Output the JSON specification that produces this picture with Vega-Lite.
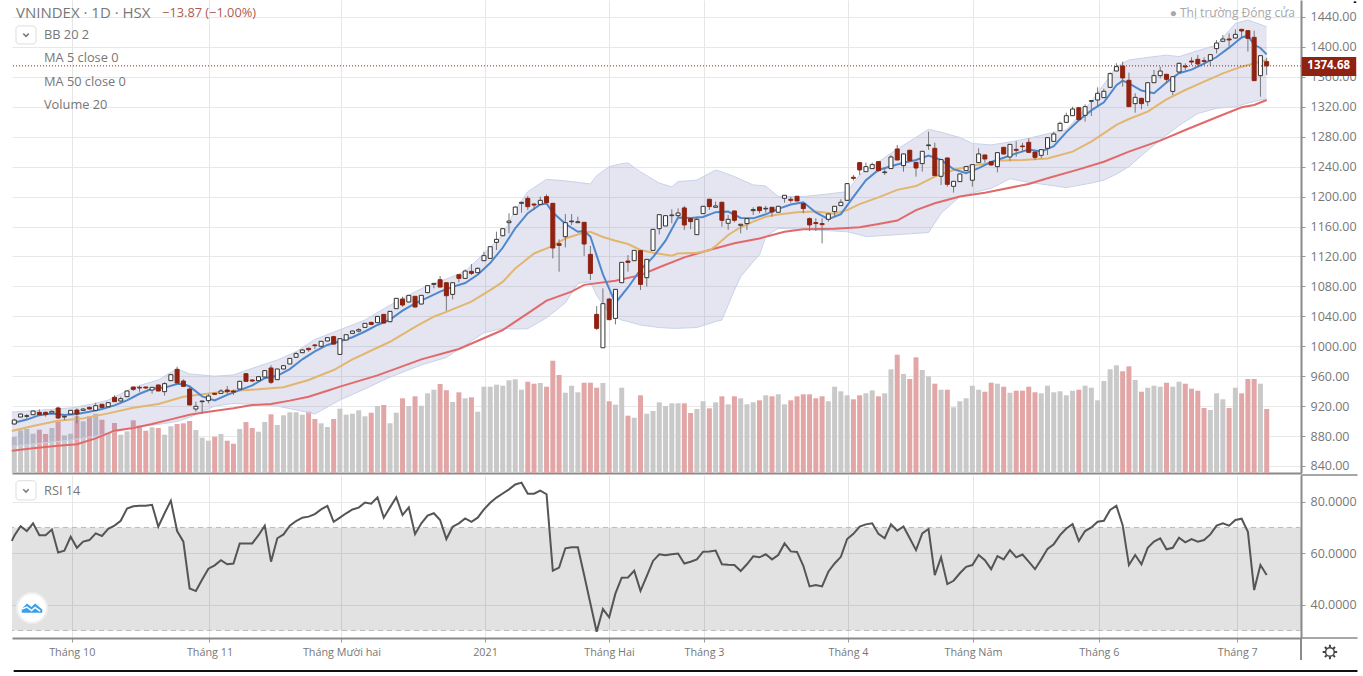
{"$schema":"https://vega.github.io/schema/vega-lite/v6.json","background":"#ffffff","padding":{"left":7,"top":0,"right":0,"bottom":0},"bounds":"flush","spacing":2,"config":{"view":{"stroke":null},"font":"Open Sans","scale":{"continuousPadding":0}},
"datasets":{
"candles":[
{"i":0,"open":896.1,"high":903,"low":895,"close":901.4,"volume":36},{"i":1,"open":905.4,"high":910,"low":905,"close":909.4,"volume":42.7},{"i":2,"open":906.3,"high":909.4,"low":903.2,"close":907.2,"volume":44},{"i":3,"open":908.5,"high":914,"low":908,"close":913.4,"volume":39.3},{"i":4,"open":911.7,"high":915.7,"low":907.7,"close":908.5,"volume":43.3},{"i":5,"open":911.7,"high":912.6,"low":905.9,"close":909,"volume":39},{"i":6,"open":910.8,"high":914,"low":910,"close":913,"volume":45},{"i":7,"open":917.5,"high":919.2,"low":903.2,"close":904.1,"volume":51.7},{"i":8,"open":905.4,"high":906.3,"low":901.4,"close":906.3,"volume":37.7},{"i":9,"open":909.4,"high":915,"low":909,"close":914.3,"volume":39.3},
{"i":10,"open":914.8,"high":917,"low":897,"close":909.4,"volume":56.7},{"i":11,"open":914.3,"high":917,"low":914,"close":916.1,"volume":51.7},{"i":12,"open":918.3,"high":919.5,"low":915.5,"close":916.1,"volume":56.7},{"i":13,"open":914.3,"high":924.6,"low":913.4,"close":920.6,"volume":59.3},{"i":14,"open":922.4,"high":923,"low":917.5,"close":918.3,"volume":53.3},{"i":15,"open":919.2,"high":925,"low":919,"close":924.6,"volume":40},{"i":16,"open":931.7,"high":934.4,"low":925.5,"close":925.9,"volume":50},{"i":17,"open":926.8,"high":932.6,"low":926,"close":929.9,"volume":38.3},{"i":18,"open":932.6,"high":941,"low":932,"close":940.2,"volume":41.7},{"i":19,"open":945.5,"high":946,"low":940.2,"close":942.4,"volume":52.7},
{"i":20,"open":945.1,"high":947.3,"low":939.3,"close":944.2,"volume":47.3},{"i":21,"open":945.5,"high":946,"low":943,"close":944.2,"volume":42.3},{"i":22,"open":941.5,"high":945.5,"low":936.6,"close":945.1,"volume":45.7},{"i":23,"open":948.2,"high":949,"low":940,"close":940.2,"volume":45},{"i":24,"open":939.3,"high":951.8,"low":934,"close":950,"volume":38.3},{"i":25,"open":954,"high":963,"low":953.5,"close":962,"volume":46.7},{"i":26,"open":969.1,"high":972.7,"low":949.5,"close":950.9,"volume":49},{"i":27,"open":953.5,"high":955.8,"low":946,"close":946.4,"volume":49.7},{"i":28,"open":942.8,"high":945,"low":921,"close":921.5,"volume":52},{"i":29,"open":916.1,"high":925.9,"low":912.6,"close":919.7,"volume":43},
{"i":30,"open":925.9,"high":927,"low":910.3,"close":926.8,"volume":35.3},{"i":31,"open":927.3,"high":936.2,"low":923.7,"close":933.5,"volume":32.3},{"i":32,"open":937,"high":938,"low":935,"close":935.7,"volume":36.3},{"i":33,"open":937,"high":942.8,"low":936.5,"close":940.2,"volume":39},{"i":34,"open":941.5,"high":946.9,"low":936.2,"close":939.3,"volume":32.3},{"i":35,"open":940.2,"high":942,"low":934.8,"close":938.8,"volume":29.3},{"i":36,"open":942.8,"high":954,"low":942,"close":953.1,"volume":44},{"i":37,"open":963.3,"high":964,"low":953,"close":953.1,"volume":51},{"i":38,"open":954.9,"high":956,"low":952.5,"close":953.5,"volume":45},{"i":39,"open":954,"high":960,"low":953.5,"close":959.3,"volume":41.3},
{"i":40,"open":958.9,"high":968,"low":958.5,"close":967.4,"volume":51},{"i":41,"open":970.9,"high":974.5,"low":949.5,"close":951.8,"volume":58.7},{"i":42,"open":955.3,"high":970,"low":955,"close":969.6,"volume":48},{"i":43,"open":969.6,"high":975,"low":969,"close":974,"volume":57.7},{"i":44,"open":976.3,"high":984,"low":976,"close":983.8,"volume":60.7},{"i":45,"open":985.2,"high":992.3,"low":985,"close":990.1,"volume":60.7},{"i":46,"open":991.4,"high":996,"low":991,"close":995,"volume":58.3},{"i":47,"open":997.2,"high":998,"low":992.7,"close":995.4,"volume":61.3},{"i":48,"open":1001.7,"high":1003,"low":996.3,"close":1000.8,"volume":54},{"i":49,"open":999.9,"high":1007,"low":999.5,"close":1006.6,"volume":49.7},
{"i":50,"open":1007,"high":1012,"low":1006.5,"close":1011.5,"volume":46},{"i":51,"open":1012.8,"high":1014,"low":1002.5,"close":1002.9,"volume":54},{"i":52,"open":989.1,"high":1010.5,"low":988.5,"close":1010.1,"volume":64.3},{"i":53,"open":1008.3,"high":1016,"low":1008,"close":1015.4,"volume":58.3},{"i":54,"open":1017.2,"high":1021,"low":1017,"close":1020.3,"volume":59.3},{"i":55,"open":1020.3,"high":1024.3,"low":1018.5,"close":1022.1,"volume":62.7},{"i":56,"open":1025.2,"high":1031,"low":1025,"close":1030.6,"volume":56.7},{"i":57,"open":1031.9,"high":1032.5,"low":1028.5,"close":1029.2,"volume":60.3},{"i":58,"open":1031.5,"high":1040.5,"low":1031,"close":1039.9,"volume":67},{"i":59,"open":1042.6,"high":1043,"low":1030.5,"close":1031,"volume":68},
{"i":60,"open":1032.8,"high":1047,"low":1032,"close":1046.6,"volume":49.7},{"i":61,"open":1050.2,"high":1064.5,"low":1050,"close":1064,"volume":60.3},{"i":62,"open":1063.1,"high":1066.2,"low":1052.8,"close":1055.1,"volume":74.7},{"i":63,"open":1059.1,"high":1068.5,"low":1058.5,"close":1068,"volume":67},{"i":64,"open":1066.7,"high":1067,"low":1052,"close":1052.4,"volume":76.7},{"i":65,"open":1056.4,"high":1068.5,"low":1056,"close":1068,"volume":67.3},{"i":66,"open":1071.6,"high":1081.5,"low":1071,"close":1080.9,"volume":79.7},{"i":67,"open":1082.7,"high":1084.5,"low":1077.4,"close":1084,"volume":83.3},{"i":68,"open":1088.9,"high":1093.8,"low":1079,"close":1079.1,"volume":89},{"i":69,"open":1084.9,"high":1085,"low":1047.5,"close":1067.5,"volume":82.8},
{"i":70,"open":1069.3,"high":1085,"low":1062.6,"close":1084.9,"volume":71},{"i":71,"open":1095.6,"high":1096,"low":1085.4,"close":1090.7,"volume":80.7},{"i":72,"open":1090.7,"high":1102.7,"low":1090,"close":1100.5,"volume":74.7},{"i":73,"open":1100.1,"high":1109.9,"low":1095.2,"close":1097.4,"volume":75.7},{"i":74,"open":1098.3,"high":1105.4,"low":1098,"close":1104.1,"volume":61.3},{"i":75,"open":1114.3,"high":1126.4,"low":1114,"close":1121,"volume":86.3},{"i":76,"open":1117.4,"high":1133.5,"low":1117,"close":1133,"volume":86.3},{"i":77,"open":1138.8,"high":1153.1,"low":1128.6,"close":1142.8,"volume":88.3},{"i":78,"open":1147.7,"high":1157.5,"low":1147,"close":1157.1,"volume":87.3},{"i":79,"open":1165.1,"high":1177.6,"low":1150.9,"close":1167.3,"volume":92.7},
{"i":80,"open":1176.2,"high":1187,"low":1176,"close":1186,"volume":93.7},{"i":81,"open":1191,"high":1193,"low":1178.5,"close":1192.3,"volume":83.3},{"i":82,"open":1197.6,"high":1200.8,"low":1182,"close":1186.5,"volume":91.3},{"i":83,"open":1190,"high":1191,"low":1182,"close":1188.7,"volume":89.3},{"i":84,"open":1189.6,"high":1199.9,"low":1189,"close":1195,"volume":90},{"i":85,"open":1199.9,"high":1203,"low":1191,"close":1191.8,"volume":86.3},{"i":86,"open":1191,"high":1191.5,"low":1117.4,"close":1131.3,"volume":112.3},{"i":87,"open":1137,"high":1142.8,"low":1099.6,"close":1134.8,"volume":98},{"i":88,"open":1146.4,"high":1176.7,"low":1132.1,"close":1165.1,"volume":80.3},{"i":89,"open":1166.4,"high":1176.7,"low":1162,"close":1167.3,"volume":87.3},
{"i":90,"open":1165.1,"high":1173.1,"low":1165,"close":1166.4,"volume":80.7},{"i":91,"open":1165.6,"high":1166,"low":1120.6,"close":1136.6,"volume":90.3},{"i":92,"open":1122.8,"high":1133.9,"low":1088.5,"close":1097.4,"volume":90.3},{"i":93,"open":1042.6,"high":1053.7,"low":1021.7,"close":1023.9,"volume":85.3},{"i":94,"open":998,"high":1077.4,"low":998,"close":1056.9,"volume":90},{"i":95,"open":1063.1,"high":1064,"low":1035,"close":1035.5,"volume":71.7},{"i":96,"open":1037.2,"high":1076.5,"low":1029.2,"close":1076,"volume":68.3},{"i":97,"open":1084.9,"high":1112.5,"low":1084.5,"close":1112.1,"volume":85.3},{"i":98,"open":1113.9,"high":1121.9,"low":1099.6,"close":1112.1,"volume":57.3},{"i":99,"open":1114.3,"high":1128.5,"low":1114,"close":1128.1,"volume":55.3},
{"i":100,"open":1127.7,"high":1128,"low":1075.1,"close":1082.7,"volume":77.7},{"i":101,"open":1091.6,"high":1116.5,"low":1079.6,"close":1116.1,"volume":59.3},{"i":102,"open":1128.1,"high":1157,"low":1128,"close":1156.2,"volume":62},{"i":103,"open":1157.1,"high":1176,"low":1149.5,"close":1175.8,"volume":70.7},{"i":104,"open":1160.7,"high":1175,"low":1160.5,"close":1174.5,"volume":67},{"i":105,"open":1174.5,"high":1183,"low":1164.3,"close":1175.4,"volume":69.7},{"i":106,"open":1174.5,"high":1184.3,"low":1171,"close":1178.1,"volume":69.7},{"i":107,"open":1184.8,"high":1187.5,"low":1155.4,"close":1162.1,"volume":69.7},{"i":108,"open":1170.5,"high":1171,"low":1156.3,"close":1166.5,"volume":60},{"i":109,"open":1149.1,"high":1173.2,"low":1149,"close":1169.6,"volume":64},
{"i":110,"open":1177.2,"high":1187.5,"low":1177,"close":1187,"volume":71.7},{"i":111,"open":1196.4,"high":1197,"low":1182.1,"close":1186.6,"volume":64.7},{"i":112,"open":1185.7,"high":1193.3,"low":1185,"close":1187.5,"volume":70.7},{"i":113,"open":1192.4,"high":1193,"low":1159.8,"close":1168.3,"volume":76.7},{"i":114,"open":1164.3,"high":1175.4,"low":1155.4,"close":1169.6,"volume":68.7},{"i":115,"open":1180.8,"high":1181,"low":1165.6,"close":1168.3,"volume":76.7},{"i":116,"open":1161.6,"high":1163.5,"low":1150.9,"close":1163,"volume":74.7},{"i":117,"open":1163.9,"high":1171,"low":1155.4,"close":1170.5,"volume":68.7},{"i":118,"open":1181.2,"high":1185.7,"low":1175.4,"close":1182.6,"volume":70.7},{"i":119,"open":1186.1,"high":1186.5,"low":1177.7,"close":1181.2,"volume":72.7},
{"i":120,"open":1183.5,"high":1187.5,"low":1178.6,"close":1184.3,"volume":77.7},{"i":121,"open":1185.7,"high":1186,"low":1173.2,"close":1179.4,"volume":76.7},{"i":122,"open":1179,"high":1187.5,"low":1179,"close":1187,"volume":78.7},{"i":123,"open":1197.7,"high":1202,"low":1191.9,"close":1201.7,"volume":68.7},{"i":124,"open":1196.4,"high":1199.9,"low":1191.9,"close":1195,"volume":72.7},{"i":125,"open":1200.4,"high":1201,"low":1194,"close":1194.1,"volume":76.7},{"i":126,"open":1190.6,"high":1191,"low":1177.7,"close":1183.9,"volume":78.7},{"i":127,"open":1170.5,"high":1172.3,"low":1154,"close":1162.1,"volume":78.7},{"i":128,"open":1165.2,"high":1171,"low":1154,"close":1163.9,"volume":74.7},{"i":129,"open":1163.9,"high":1171,"low":1137.6,"close":1162.5,"volume":76.7},
{"i":130,"open":1169.6,"high":1177,"low":1166.5,"close":1176.8,"volume":71.7},{"i":131,"open":1179.9,"high":1187.5,"low":1173.2,"close":1187,"volume":86.3},{"i":132,"open":1187.9,"high":1196.4,"low":1187.5,"close":1192.4,"volume":81.7},{"i":133,"open":1195,"high":1218,"low":1194.5,"close":1217.3,"volume":77.7},{"i":134,"open":1225.8,"high":1228.9,"low":1221.3,"close":1224.4,"volume":73.7},{"i":135,"open":1245.4,"high":1246,"low":1228.9,"close":1235.6,"volume":77.7},{"i":136,"open":1233.3,"high":1245.4,"low":1233,"close":1240,"volume":79.7},{"i":137,"open":1237.4,"high":1245.4,"low":1237,"close":1242.7,"volume":82.7},{"i":138,"open":1246.7,"high":1247,"low":1233.3,"close":1234.7,"volume":76.7},{"i":139,"open":1232,"high":1237.8,"low":1228.9,"close":1232.9,"volume":79.7},
{"i":140,"open":1237.4,"high":1255.6,"low":1237,"close":1252.9,"volume":103.7},{"i":141,"open":1263.6,"high":1269,"low":1248.5,"close":1248.9,"volume":118.3},{"i":142,"open":1241.4,"high":1257.5,"low":1233.3,"close":1257,"volume":99},{"i":143,"open":1261.9,"high":1262.5,"low":1247.5,"close":1248,"volume":94},{"i":144,"open":1245.8,"high":1246,"low":1226.7,"close":1238.2,"volume":115.7},{"i":145,"open":1244,"high":1261,"low":1233.3,"close":1260.5,"volume":103},{"i":146,"open":1268.1,"high":1286.8,"low":1262.3,"close":1269,"volume":96.7},{"i":147,"open":1264.5,"high":1272.1,"low":1228,"close":1228,"volume":89.3},{"i":148,"open":1227.1,"high":1250,"low":1215.5,"close":1249.4,"volume":83.3},{"i":149,"open":1251.6,"high":1252,"low":1213.3,"close":1216.4,"volume":83.3},
{"i":150,"open":1213.7,"high":1221,"low":1205.3,"close":1220.4,"volume":65.7},{"i":151,"open":1220,"high":1230.5,"low":1219.5,"close":1230.2,"volume":71.7},{"i":152,"open":1234.7,"high":1241,"low":1234,"close":1240,"volume":74.7},{"i":153,"open":1221.8,"high":1243,"low":1213.3,"close":1242.7,"volume":87.3},{"i":154,"open":1245.4,"high":1264.5,"low":1245,"close":1257,"volume":83.3},{"i":155,"open":1255.6,"high":1256,"low":1245.3,"close":1250.2,"volume":81.3},{"i":156,"open":1246.6,"high":1247,"low":1241.5,"close":1242.2,"volume":90.3},{"i":157,"open":1240,"high":1259,"low":1232.4,"close":1258.7,"volume":89.3},{"i":158,"open":1265.8,"high":1266,"low":1256,"close":1256.9,"volume":86.3},{"i":159,"open":1252.9,"high":1270,"low":1248,"close":1269.8,"volume":80.3},
{"i":160,"open":1263.1,"high":1273.8,"low":1253.3,"close":1261.8,"volume":82.3},{"i":161,"open":1267.6,"high":1272,"low":1260,"close":1266.7,"volume":82.3},{"i":162,"open":1272.5,"high":1277.8,"low":1259,"close":1259.1,"volume":86.3},{"i":163,"open":1259.6,"high":1260,"low":1248.9,"close":1252.4,"volume":80.7},{"i":164,"open":1255.1,"high":1263,"low":1251.1,"close":1262.7,"volume":79.7},{"i":165,"open":1264.5,"high":1279,"low":1255.6,"close":1278.7,"volume":87.3},{"i":166,"open":1273.8,"high":1286.7,"low":1273,"close":1283.6,"volume":80.7},{"i":167,"open":1288.1,"high":1300.1,"low":1287.5,"close":1297.9,"volume":81.7},{"i":168,"open":1299.2,"high":1312.1,"low":1299,"close":1308.1,"volume":77.7},{"i":169,"open":1308.1,"high":1320.1,"low":1308,"close":1317,"volume":82.3},
{"i":170,"open":1318.8,"high":1319,"low":1302.5,"close":1302.8,"volume":83.3},{"i":171,"open":1308.6,"high":1323.3,"low":1300.1,"close":1320.1,"volume":87.3},{"i":172,"open":1327.3,"high":1329,"low":1307.7,"close":1328.2,"volume":85.3},{"i":173,"open":1329.1,"high":1346,"low":1320.1,"close":1338,"volume":72.7},{"i":174,"open":1332.2,"high":1344.2,"low":1332,"close":1340.7,"volume":92},{"i":175,"open":1346,"high":1366,"low":1345.5,"close":1364.3,"volume":103.7},{"i":176,"open":1367.8,"high":1378.1,"low":1367.5,"close":1373.6,"volume":107.7},{"i":177,"open":1374.5,"high":1380.3,"low":1346.9,"close":1358.5,"volume":101.7},{"i":178,"open":1355.4,"high":1365.6,"low":1320,"close":1320.2,"volume":106.7},{"i":179,"open":1324.2,"high":1338,"low":1312.1,"close":1332.6,"volume":93},
{"i":180,"open":1331.3,"high":1332,"low":1316.6,"close":1324.2,"volume":81.3},{"i":181,"open":1326.8,"high":1353,"low":1321,"close":1352.2,"volume":85.3},{"i":182,"open":1352.2,"high":1369.2,"low":1352,"close":1361.6,"volume":87.3},{"i":183,"open":1361.6,"high":1373.6,"low":1358,"close":1367.8,"volume":86.3},{"i":184,"open":1363.4,"high":1364,"low":1351.3,"close":1356.7,"volume":90.3},{"i":185,"open":1340.6,"high":1361,"low":1335.7,"close":1360.2,"volume":86.3},{"i":186,"open":1366.5,"high":1379,"low":1366,"close":1378.1,"volume":91.3},{"i":187,"open":1374.5,"high":1378.1,"low":1369.2,"close":1373.2,"volume":89.3},{"i":188,"open":1381.2,"high":1386.1,"low":1375.8,"close":1379.8,"volume":84.3},{"i":189,"open":1383.4,"high":1389.2,"low":1373.6,"close":1377.2,"volume":82.3},
{"i":190,"open":1381.6,"high":1386.1,"low":1375.8,"close":1380.7,"volume":65},{"i":191,"open":1382.1,"high":1390,"low":1374.5,"close":1389.7,"volume":63},{"i":192,"open":1397.7,"high":1409.2,"low":1391.4,"close":1405.2,"volume":79.7},{"i":193,"open":1407.5,"high":1416,"low":1407,"close":1410.6,"volume":73.7},{"i":194,"open":1410.6,"high":1418.2,"low":1398.1,"close":1409.3,"volume":65},{"i":195,"open":1411.9,"high":1423.5,"low":1411,"close":1416.8,"volume":85.3},{"i":196,"open":1423.5,"high":1424,"low":1411.5,"close":1421.3,"volume":79.7},{"i":197,"open":1421.7,"high":1422,"low":1393.7,"close":1411.5,"volume":94},{"i":198,"open":1412.8,"high":1421.7,"low":1354.5,"close":1354.9,"volume":94},{"i":199,"open":1361.6,"high":1389,"low":1333.5,"close":1388.3,"volume":89.3},
{"i":200,"open":1380.3,"high":1385.6,"low":1362.5,"close":1374.68,"volume":64}
],
"ma5":[{"i":-0.4,"v":897},{"i":2,"v":902},{"i":4,"v":907.9},{"i":6,"v":910.2},{"i":8,"v":908.2},{"i":10,"v":909.4},{"i":12,"v":912.4},{"i":14,"v":916.1},{"i":16,"v":921},{"i":18,"v":927.6},{"i":20,"v":936.5},{"i":22,"v":943.2},{"i":24,"v":944.7},{"i":26,"v":949.6},{"i":27,"v":949.5},{"i":28,"v":946.2},{"i":30,"v":933},{"i":32,"v":927.5},{"i":34,"v":935.1},{"i":36,"v":941.4},{"i":38,"v":947.6},{"i":40,"v":957.3},{"i":42,"v":960.5},{"i":44,"v":969.5},{"i":46,"v":982.5},{"i":48,"v":993},{"i":50,"v":1001.7},{"i":52,"v":1006.6},{"i":54,"v":1012},{"i":56,"v":1019.7},{"i":58,"v":1028.4},{"i":60,"v":1035.5},{"i":62,"v":1047.5},{"i":64,"v":1057.2},{"i":66,"v":1064.9},{"i":68,"v":1072.9},{"i":70,"v":1079.3},{"i":72,"v":1084.5},{"i":74,"v":1095.5},{"i":76,"v":1111.2},{"i":78,"v":1131.6},{"i":80,"v":1157.6},{"i":82,"v":1177.8},{"i":84,"v":1189.5},{"i":85,"v":1190.8},{"i":86,"v":1178.7},{"i":88,"v":1163.6},{"i":90,"v":1153},{"i":91,"v":1154},{"i":92,"v":1146.6},{"i":94,"v":1096},{"i":96,"v":1057.8},{"i":98,"v":1078.5},{"i":100,"v":1102.2},{"i":102,"v":1119},{"i":104,"v":1141},{"i":106,"v":1172},{"i":108,"v":1171.3},{"i":110,"v":1172.7},{"i":112,"v":1179.2},{"i":114,"v":1179.9},{"i":116,"v":1171.4},{"i":118,"v":1170.9},{"i":120,"v":1176.3},{"i":122,"v":1183.5},{"i":124,"v":1189.4},{"i":126,"v":1192.3},{"i":128,"v":1178.8},{"i":130,"v":1169.8},{"i":132,"v":1176.5},{"i":134,"v":1199.6},{"i":136,"v":1221.9},{"i":138,"v":1235.5},{"i":140,"v":1240.5},{"i":142,"v":1245.3},{"i":144,"v":1249},{"i":146,"v":1254.7},{"i":148,"v":1249},{"i":150,"v":1236.6},{"i":152,"v":1231.3},{"i":154,"v":1238.1},{"i":156,"v":1246.4},{"i":158,"v":1251.8},{"i":160,"v":1257.7},{"i":162,"v":1262.8},{"i":164,"v":1260.4},{"i":166,"v":1267.3},{"i":168,"v":1286.2},{"i":170,"v":1301.9},{"i":172,"v":1315.2},{"i":174,"v":1326},{"i":176,"v":1348.8},{"i":177,"v":1355},{"i":178,"v":1351.3},{"i":180,"v":1341.7},{"i":182,"v":1338.2},{"i":184,"v":1352.5},{"i":186,"v":1364.9},{"i":188,"v":1369.6},{"i":190,"v":1377.6},{"i":192,"v":1386.5},{"i":194,"v":1399},{"i":196,"v":1412.6},{"i":197,"v":1415},{"i":198,"v":1402.8},{"i":199,"v":1398.6},{"i":200,"v":1390}],
"ma20":[{"i":-0.4,"v":886.7},{"i":3,"v":893.4},{"i":7,"v":900.5},{"i":11,"v":903.6},{"i":15,"v":910.3},{"i":19,"v":917.9},{"i":23,"v":922.8},{"i":27,"v":932.6},{"i":30,"v":935.7},{"i":35,"v":940.6},{"i":39,"v":942.4},{"i":43,"v":945.1},{"i":47,"v":954.9},{"i":51,"v":968.2},{"i":54,"v":982.5},{"i":60,"v":1006},{"i":64,"v":1026},{"i":67,"v":1039.5},{"i":69,"v":1046},{"i":73,"v":1059.5},{"i":76,"v":1075},{"i":78,"v":1086},{"i":80,"v":1104},{"i":83,"v":1124},{"i":86,"v":1134},{"i":88,"v":1144},{"i":91,"v":1152},{"i":92,"v":1153},{"i":94,"v":1146},{"i":96,"v":1141},{"i":98,"v":1136.6},{"i":100,"v":1128.6},{"i":102,"v":1125},{"i":105,"v":1121},{"i":106,"v":1124},{"i":109,"v":1125},{"i":111,"v":1127.8},{"i":112,"v":1134},{"i":114,"v":1148.7},{"i":116,"v":1159},{"i":118,"v":1166.5},{"i":120,"v":1173},{"i":122,"v":1176},{"i":125,"v":1179},{"i":128,"v":1180},{"i":131,"v":1177},{"i":133,"v":1182},{"i":135,"v":1190},{"i":138,"v":1199},{"i":141,"v":1209},{"i":144,"v":1214},{"i":147,"v":1226.7},{"i":150,"v":1235.6},{"i":153,"v":1241.4},{"i":156,"v":1245},{"i":157,"v":1248},{"i":161,"v":1248.9},{"i":165,"v":1251},{"i":169,"v":1260},{"i":172,"v":1273.4},{"i":176,"v":1295.7},{"i":178,"v":1303.7},{"i":181,"v":1313.5},{"i":184,"v":1330},{"i":187,"v":1342.4},{"i":190,"v":1353.6},{"i":193,"v":1364.7},{"i":196,"v":1373.6},{"i":198,"v":1378},{"i":200,"v":1382.5}],
"ma50":[{"i":-0.4,"v":860.4},{"i":3,"v":863.6},{"i":7,"v":867},{"i":10,"v":869},{"i":13,"v":876.9},{"i":16,"v":887.2},{"i":19,"v":890.7},{"i":22,"v":896},{"i":25,"v":902.3},{"i":28,"v":908.5},{"i":31,"v":912.6},{"i":35,"v":917},{"i":38,"v":921.5},{"i":41,"v":922.8},{"i":44,"v":927.3},{"i":47,"v":932.6},{"i":50,"v":940.6},{"i":52,"v":946},{"i":58,"v":961},{"i":65,"v":982.5},{"i":71,"v":996.3},{"i":78,"v":1021.7},{"i":82,"v":1044},{"i":85,"v":1061},{"i":89,"v":1073},{"i":91,"v":1082},{"i":96,"v":1087.6},{"i":100,"v":1095},{"i":103,"v":1105.5},{"i":107,"v":1118.8},{"i":111,"v":1128.7},{"i":115,"v":1137.6},{"i":119,"v":1144},{"i":123,"v":1153},{"i":126,"v":1156.3},{"i":131,"v":1157},{"i":135,"v":1159},{"i":138,"v":1163.4},{"i":141,"v":1167.9},{"i":144,"v":1182},{"i":147,"v":1191},{"i":151,"v":1200},{"i":155,"v":1205.2},{"i":162,"v":1216.8},{"i":165,"v":1224.4},{"i":170,"v":1236.4},{"i":174,"v":1246.6},{"i":178,"v":1260},{"i":183,"v":1274.7},{"i":187,"v":1289},{"i":192,"v":1306},{"i":196,"v":1319.3},{"i":198,"v":1322.4},{"i":200,"v":1329}],
"bb":[{"i":-0.4,"upper":912,"lower":866.5},{"i":4,"upper":914.4,"lower":870.2},{"i":9,"upper":917.6,"lower":874.7},{"i":13,"upper":923.7,"lower":880},{"i":15,"upper":928,"lower":883.6},{"i":19,"upper":945,"lower":891.5},{"i":23,"upper":955,"lower":895.5},{"i":26,"upper":970,"lower":899.5},{"i":28,"upper":963,"lower":905},{"i":32,"upper":960,"lower":920},{"i":35,"upper":961.6,"lower":923.5},{"i":38,"upper":970.5,"lower":922.5},{"i":42,"upper":981.6,"lower":920},{"i":45,"upper":992.7,"lower":915},{"i":48,"upper":1009,"lower":909.4},{"i":52,"upper":1022,"lower":928},{"i":56,"upper":1035,"lower":943},{"i":59,"upper":1050,"lower":955},{"i":61,"upper":1059.5,"lower":962},{"i":65,"upper":1077,"lower":975},{"i":69,"upper":1090,"lower":985},{"i":72,"upper":1100,"lower":1001.6},{"i":75,"upper":1124,"lower":1018},{"i":78,"upper":1148.6,"lower":1023.9},{"i":80,"upper":1182,"lower":1023},{"i":82,"upper":1206.5,"lower":1023.5},{"i":85,"upper":1223,"lower":1038},{"i":88,"upper":1221,"lower":1058},{"i":90,"upper":1219,"lower":1084},{"i":92,"upper":1216.8,"lower":1086},{"i":93,"upper":1228,"lower":1068},{"i":95,"upper":1240,"lower":1044},{"i":97,"upper":1244,"lower":1035},{"i":98,"upper":1245,"lower":1033},{"i":100,"upper":1233,"lower":1028.3},{"i":103,"upper":1218,"lower":1025},{"i":105,"upper":1213,"lower":1024},{"i":106,"upper":1220,"lower":1024},{"i":109,"upper":1222,"lower":1025},{"i":112,"upper":1235.6,"lower":1033},{"i":113,"upper":1233,"lower":1035},{"i":115,"upper":1226.7,"lower":1075},{"i":116,"upper":1223,"lower":1093},{"i":118,"upper":1215.5,"lower":1113},{"i":119,"upper":1215,"lower":1122},{"i":120,"upper":1214,"lower":1146.5},{"i":122,"upper":1200,"lower":1157.6},{"i":126,"upper":1200,"lower":1156},{"i":130,"upper":1203.5,"lower":1154.5},{"i":133,"upper":1206.6,"lower":1153},{"i":135,"upper":1229,"lower":1149},{"i":136,"upper":1235,"lower":1146.5},{"i":140,"upper":1257.9,"lower":1148.5},{"i":146,"upper":1289.9,"lower":1152},{"i":148,"upper":1286,"lower":1177.7},{"i":151,"upper":1279,"lower":1200},{"i":153,"upper":1271,"lower":1205},{"i":156,"upper":1269,"lower":1211},{"i":159,"upper":1273,"lower":1224},{"i":162,"upper":1277.8,"lower":1219},{"i":165,"upper":1284,"lower":1215.5},{"i":168,"upper":1289,"lower":1212},{"i":172,"upper":1326.8,"lower":1218},{"i":174,"upper":1350,"lower":1222},{"i":176,"upper":1373.6,"lower":1230},{"i":178,"upper":1382.5,"lower":1240},{"i":181,"upper":1386,"lower":1262},{"i":184,"upper":1389,"lower":1282},{"i":186,"upper":1387,"lower":1295},{"i":189,"upper":1395,"lower":1311},{"i":192,"upper":1402.6,"lower":1318},{"i":195,"upper":1431.5,"lower":1320},{"i":197,"upper":1436,"lower":1325},{"i":200,"upper":1427,"lower":1331}],
"rsi":[{"i":-0.4,"v":64.8},{"i":0,"v":66.8},{"i":1,"v":70.5},{"i":2,"v":68.6},{"i":3,"v":71.6},{"i":4,"v":67},{"i":5,"v":67},{"i":6,"v":69.2},{"i":7,"v":60.3},{"i":8,"v":61},{"i":9,"v":66.4},{"i":10,"v":62.1},{"i":11,"v":64.5},{"i":12,"v":65.1},{"i":13,"v":67.7},{"i":14,"v":66.7},{"i":15,"v":69.5},{"i":16,"v":70.7},{"i":17,"v":72.6},{"i":18,"v":77.3},{"i":19,"v":78.2},{"i":20,"v":78.4},{"i":21,"v":78.4},{"i":22,"v":78.8},{"i":23,"v":70.3},{"i":24,"v":75.5},{"i":25,"v":80.4},{"i":26,"v":68.6},{"i":27,"v":64.5},{"i":28,"v":46.3},{"i":29,"v":45.3},{"i":30,"v":49.8},{"i":31,"v":54},{"i":32,"v":55.3},{"i":33,"v":57.3},{"i":34,"v":55.7},{"i":35,"v":56},{"i":36,"v":63.8},{"i":37,"v":63.8},{"i":38,"v":63.8},{"i":39,"v":67},{"i":40,"v":70.7},{"i":41,"v":56.7},{"i":42,"v":65.8},{"i":43,"v":67.3},{"i":44,"v":70.7},{"i":45,"v":72.5},{"i":46,"v":73.8},{"i":47,"v":74.2},{"i":48,"v":75.2},{"i":49,"v":77},{"i":50,"v":78.4},{"i":51,"v":72.2},{"i":52,"v":73.8},{"i":53,"v":75.5},{"i":54,"v":77},{"i":55,"v":77.7},{"i":56,"v":79.7},{"i":57,"v":79.2},{"i":58,"v":81.7},{"i":59,"v":73.8},{"i":60,"v":77.8},{"i":61,"v":81.7},{"i":62,"v":74.8},{"i":63,"v":77.8},{"i":64,"v":67.4},{"i":65,"v":71.6},{"i":66,"v":74.6},{"i":67,"v":75.5},{"i":68,"v":72.9},{"i":69,"v":65.5},{"i":70,"v":70.3},{"i":71,"v":71.6},{"i":72,"v":73.5},{"i":73,"v":72.2},{"i":74,"v":73.8},{"i":75,"v":77},{"i":76,"v":79.6},{"i":77,"v":81.6},{"i":78,"v":83.2},{"i":79,"v":84.8},{"i":80,"v":86.7},{"i":81,"v":87.4},{"i":82,"v":83.1},{"i":83,"v":83.1},{"i":84,"v":84.3},{"i":85,"v":82.9},{"i":86,"v":53.2},{"i":87,"v":54.4},{"i":88,"v":61.9},{"i":89,"v":62.3},{"i":90,"v":62.3},{"i":91,"v":51.5},{"i":92,"v":40.5},{"i":93,"v":29.5},{"i":94,"v":38.3},{"i":95,"v":35.1},{"i":96,"v":44.4},{"i":97,"v":50.5},{"i":98,"v":50.6},{"i":99,"v":53.2},{"i":100,"v":45.4},{"i":101,"v":51.1},{"i":102,"v":57},{"i":103,"v":59.6},{"i":104,"v":59.2},{"i":105,"v":59.6},{"i":106,"v":59.9},{"i":107,"v":56},{"i":108,"v":56.7},{"i":109,"v":57.6},{"i":110,"v":60.6},{"i":111,"v":60.7},{"i":112,"v":61},{"i":113,"v":55.7},{"i":114,"v":55.5},{"i":115,"v":55.4},{"i":116,"v":53.1},{"i":117,"v":55.7},{"i":118,"v":58.8},{"i":119,"v":58.4},{"i":120,"v":59.6},{"i":121,"v":57.6},{"i":122,"v":59.3},{"i":123,"v":63.8},{"i":124,"v":60.7},{"i":125,"v":60.5},{"i":126,"v":55.1},{"i":127,"v":47.1},{"i":128,"v":47.6},{"i":129,"v":47.1},{"i":130,"v":52.8},{"i":131,"v":56},{"i":132,"v":58.6},{"i":133,"v":65.5},{"i":134,"v":67.5},{"i":135,"v":70.3},{"i":136,"v":71.2},{"i":137,"v":71.6},{"i":138,"v":67.5},{"i":139,"v":65.8},{"i":140,"v":71.2},{"i":141,"v":68.7},{"i":142,"v":70.4},{"i":143,"v":65.8},{"i":144,"v":61.2},{"i":145,"v":67.7},{"i":146,"v":69.4},{"i":147,"v":51.5},{"i":148,"v":58.4},{"i":149,"v":48},{"i":150,"v":49.3},{"i":151,"v":52.2},{"i":152,"v":54.7},{"i":153,"v":55.4},{"i":154,"v":59.3},{"i":155,"v":57.3},{"i":156,"v":53.8},{"i":157,"v":58.9},{"i":158,"v":57.6},{"i":159,"v":61.2},{"i":160,"v":58.4},{"i":161,"v":59.5},{"i":162,"v":56.7},{"i":163,"v":53.8},{"i":164,"v":57.6},{"i":165,"v":61.7},{"i":166,"v":63.5},{"i":167,"v":67},{"i":168,"v":69.6},{"i":169,"v":71.3},{"i":170,"v":64.7},{"i":171,"v":68.6},{"i":172,"v":70},{"i":173,"v":72.2},{"i":174,"v":72.6},{"i":175,"v":76.8},{"i":176,"v":78.4},{"i":177,"v":70.9},{"i":178,"v":55.4},{"i":179,"v":59.3},{"i":180,"v":55.7},{"i":181,"v":62.1},{"i":182,"v":64.5},{"i":183,"v":65.8},{"i":184,"v":61.5},{"i":185,"v":62.1},{"i":186,"v":66},{"i":187,"v":64.2},{"i":188,"v":65.5},{"i":189,"v":64.5},{"i":190,"v":65.1},{"i":191,"v":67.3},{"i":192,"v":70.7},{"i":193,"v":71.6},{"i":194,"v":70.7},{"i":195,"v":72.9},{"i":196,"v":73.4},{"i":197,"v":68.3},{"i":198,"v":45.7},{"i":199,"v":55.4},{"i":200,"v":51.5}]
},
"vconcat":[
{"width":1289,"height":473,"resolve":{"scale":{"y":"independent"}},
"layer":[
{"data":{"name":"candles"},"mark":{"type":"bar","orient":"vertical","size":5},"encoding":{"x":{"field":"i","type":"quantitative","scale":{"domain":[-0.367,205.48],"nice":false,"zero":false,"padding":0},"axis":{"title":null}},"y":{"field":"volume","type":"quantitative","stack":null,"scale":{"domain":[0,473],"nice":false},"axis":null},"color":{"condition":{"test":"datum.close<datum.open","value":"#e3a6a6"},"value":"#c9c9c9"}}},
{"layer":[
{"data":{"name":"bb"},"mark":{"type":"area","orient":"vertical","fill":"#6a6fb0","opacity":0.18},"encoding":{"x":{"field":"i","type":"quantitative","axis":{"title":null,"values":[9.17,31.17,52.25,75.17,94.97,110.14,133.14,153.1,173.2,195.3],"grid":true,"gridColor":"#e6e6e6","labels":false,"ticks":false,"domainColor":"#8a8a8a","domainWidth":2}},"y":{"field":"upper","type":"quantitative","stack":null,"scale":{"domain":[830.6,1462.7],"nice":false,"zero":false},"axis":{"title":null,"orient":"right","tickCount":20,"values":[840,880,920,960,1000,1040,1080,1120,1160,1200,1240,1280,1320,1360,1400,1440],"format":".2f","grid":true,"gridColor":"#e8e8e8","labelColor":"#777777","labelFontSize":12.5,"labelPadding":5,"labelOverlap":false,"tickColor":"#999999","tickSize":4,"domainColor":"#8a8a8a","domainWidth":2}},"y2":{"field":"lower"}}},
{"data":{"name":"bb"},"mark":{"type":"line","color":"#c7d3ea","strokeWidth":1},"encoding":{"x":{"field":"i","type":"quantitative","axis":{"title":null}},"y":{"field":"upper","type":"quantitative","axis":{"title":null}}}},
{"data":{"name":"bb"},"mark":{"type":"line","color":"#c7d3ea","strokeWidth":1},"encoding":{"x":{"field":"i","type":"quantitative","axis":{"title":null}},"y":{"field":"lower","type":"quantitative","axis":{"title":null}}}},
{"data":{"name":"ma50"},"mark":{"type":"line","color":"#e2696a","strokeWidth":2},"encoding":{"x":{"field":"i","type":"quantitative","axis":{"title":null}},"y":{"field":"v","type":"quantitative","axis":{"title":null}}}},
{"data":{"name":"ma20"},"mark":{"type":"line","color":"#e2b66e","strokeWidth":2},"encoding":{"x":{"field":"i","type":"quantitative","axis":{"title":null}},"y":{"field":"v","type":"quantitative","axis":{"title":null}}}},
{"data":{"name":"ma5"},"mark":{"type":"line","color":"#4e88cc","strokeWidth":2},"encoding":{"x":{"field":"i","type":"quantitative","axis":{"title":null}},"y":{"field":"v","type":"quantitative","axis":{"title":null}}}},
{"data":{"name":"candles"},"mark":{"type":"rule","color":"#777777","strokeWidth":1},"encoding":{"x":{"field":"i","type":"quantitative","axis":{"title":null}},"y":{"field":"low","type":"quantitative","axis":{"title":null}},"y2":{"field":"high"}}},
{"data":{"name":"candles"},"mark":{"type":"bar","orient":"vertical","size":4,"strokeWidth":1},"encoding":{"x":{"field":"i","type":"quantitative","scale":{"padding":0},"axis":{"title":null}},"y":{"field":"open","type":"quantitative","stack":null,"axis":{"title":null}},"y2":{"field":"close"},"fill":{"condition":{"test":"datum.close<datum.open","value":"#8f2210"},"value":"#ffffff"},"stroke":{"condition":{"test":"datum.close<datum.open","value":"#8f2210"},"value":"#333333"}}},
{"data":{"values":[{"p":1374.68}]},"mark":{"type":"rule","color":"#8f2210","strokeDash":[1,2],"strokeWidth":1},"encoding":{"y":{"field":"p","type":"quantitative","axis":{"title":null}}}},
{"data":{"values":[{"t":"1374.68"}]},"mark":{"type":"rect","color":"#8f2210"},"encoding":{"x":{"datum":205.6,"axis":{"title":null}},"x2":{"datum":214.3},"y":{"datum":1386.5,"axis":{"title":null}},"y2":{"datum":1361.2}}},
{"data":{"values":[{"t":"1374.68"}]},"mark":{"type":"text","color":"#ffffff","fontSize":11.5,"fontWeight":"bold","baseline":"middle"},"encoding":{"x":{"datum":209.9,"axis":{"title":null}},"y":{"datum":1374.68,"axis":{"title":null}},"text":{"field":"t"}}},
{"data":{"values":[{"t":"VNINDEX · 1D · HSX"}]},"mark":{"type":"text","align":"left","baseline":"middle","fontSize":15,"color":"#777777"},"encoding":{"x":{"datum":0.27,"axis":{"title":null}},"y":{"datum":1445.3,"axis":{"title":null}},"text":{"field":"t"}}},
{"data":{"values":[{"t":"−13.87 (−1.00%)"}]},"mark":{"type":"text","align":"left","baseline":"middle","fontSize":12.8,"color":"#ad5c52"},"encoding":{"x":{"datum":23.6,"axis":{"title":null}},"y":{"datum":1445.3,"axis":{"title":null}},"text":{"field":"t"}}},
{"data":{"values":[{"t":"● Thị trường Đóng cửa"}]},"mark":{"type":"text","align":"right","baseline":"middle","fontSize":12,"color":"#a8a8a8"},"encoding":{"x":{"datum":204.5,"axis":{"title":null}},"y":{"datum":1445.3,"axis":{"title":null}},"text":{"field":"t"}}},
{"data":{"values":[{"t":"BB 20 2"}]},"mark":{"type":"text","align":"left","baseline":"middle","fontSize":12.8,"color":"#777777"},"encoding":{"x":{"datum":4.74,"axis":{"title":null}},"y":{"datum":1415.9,"axis":{"title":null}},"text":{"field":"t"}}},
{"data":{"values":[{"t":"MA 5 close 0"}]},"mark":{"type":"text","align":"left","baseline":"middle","fontSize":12.8,"color":"#777777"},"encoding":{"x":{"datum":4.74,"axis":{"title":null}},"y":{"datum":1385.2,"axis":{"title":null}},"text":{"field":"t"}}},
{"data":{"values":[{"t":"MA 50 close 0"}]},"mark":{"type":"text","align":"left","baseline":"middle","fontSize":12.8,"color":"#777777"},"encoding":{"x":{"datum":4.74,"axis":{"title":null}},"y":{"datum":1353.1,"axis":{"title":null}},"text":{"field":"t"}}},
{"data":{"values":[{"t":"Volume 20"}]},"mark":{"type":"text","align":"left","baseline":"middle","fontSize":12.8,"color":"#777777"},"encoding":{"x":{"datum":4.74,"axis":{"title":null}},"y":{"datum":1322.4,"axis":{"title":null}},"text":{"field":"t"}}},
{"data":{"values":[{"t":"button"}]},"mark":{"type":"rect","fill":"#ffffff","stroke":"#dddddd","cornerRadius":3},"encoding":{"x":{"datum":0.27,"axis":{"title":null}},"x2":{"datum":3.47},"y":{"datum":1428,"axis":{"title":null}},"y2":{"datum":1403.9}}},
{"data":{"values":[{"t":"chevron"}]},"mark":{"type":"point","shape":"M-1,-0.5L0,0.5L1,-0.5","size":30,"stroke":"#444444","strokeWidth":1.5,"filled":false},"encoding":{"x":{"datum":1.87,"axis":{"title":null}},"y":{"datum":1415.9,"axis":{"title":null}}}},
{"data":{"values":[{"t":"corner"}]},"mark":{"type":"rule","color":"#111111","strokeWidth":2.5},"encoding":{"x":{"datum":214.1,"axis":{"title":null}},"y":{"datum":1460.9,"axis":{"title":null}},"y2":{"datum":1458.7}}}
],"resolve":{"scale":{"y":"shared"}}}
]},
{"width":1289,"height":163,
"layer":[
{"data":{"values":[{"t":"band"}]},"mark":{"type":"rect","fill":"#000000","opacity":0.115},"encoding":{"x":{"datum":-0.367,"scale":{"domain":[-0.367,205.48],"nice":false,"zero":false},"axis":{"title":null,"values":[9.17,31.17,52.25,75.17,94.97,110.14,133.14,153.1,173.2,195.3],"labelExpr":"datum.value==9.17?'Tháng 10':datum.value==31.17?'Tháng 11':datum.value==52.25?'Tháng Mười hai':datum.value==75.17?'2021':datum.value==94.97?'Tháng Hai':datum.value==110.14?'Tháng 3':datum.value==133.14?'Tháng 4':datum.value==153.1?'Tháng Năm':datum.value==173.2?'Tháng 6':'Tháng 7'","grid":true,"gridColor":"#e6e6e6","labelColor":"#777777","labelFontSize":10.8,"labelPadding":4,"labelOverlap":false,"labelFlush":false,"tickColor":"#999999","tickSize":4,"domainColor":"#8a8a8a","domainWidth":2}},"x2":{"datum":205.48},"y":{"datum":70,"scale":{"domain":[27.07,90.37],"nice":false,"zero":false},"axis":{"title":null,"orient":"right","values":[40,60,80],"format":".4f","grid":true,"gridColor":"#e8e8e8","labelColor":"#777777","labelFontSize":12.5,"labelPadding":5,"tickColor":"#999999","tickSize":4,"domainColor":"#8a8a8a","domainWidth":2}},"y2":{"datum":30}}},
{"data":{"values":[{"p":70},{"p":30}]},"mark":{"type":"rule","color":"#bbbbbb","strokeDash":[5,4],"strokeWidth":1},"encoding":{"y":{"field":"p","type":"quantitative","axis":{"title":null}}}},
{"data":{"name":"rsi"},"mark":{"type":"line","color":"#555555","strokeWidth":2},"encoding":{"x":{"field":"i","type":"quantitative","axis":{"title":null}},"y":{"field":"v","type":"quantitative","axis":{"title":null}}}},
{"data":{"values":[{"t":"RSI 14"}]},"mark":{"type":"text","align":"left","baseline":"middle","fontSize":12.8,"color":"#777777"},"encoding":{"x":{"datum":4.74,"axis":{"title":null}},"y":{"datum":84.27,"axis":{"title":null}},"text":{"field":"t"}}},
{"data":{"values":[{"t":"button"}]},"mark":{"type":"rect","fill":"#ffffff","stroke":"#dddddd","cornerRadius":3},"encoding":{"x":{"datum":0.27,"axis":{"title":null}},"x2":{"datum":3.47},"y":{"datum":88.15,"axis":{"title":null}},"y2":{"datum":80.66}}},
{"data":{"values":[{"t":"chevron"}]},"mark":{"type":"point","shape":"M-1,-0.5L0,0.5L1,-0.5","size":30,"stroke":"#444444","strokeWidth":1.5,"filled":false},"encoding":{"x":{"datum":1.87,"axis":{"title":null}},"y":{"datum":84.27,"axis":{"title":null}}}},
{"data":{"values":[{"t":"logo"}]},"mark":{"type":"point","shape":"circle","size":900,"filled":true,"fill":"#ffffff","stroke":"#eeeeee","opacity":1},"encoding":{"x":{"datum":2.83,"axis":{"title":null}},"y":{"datum":38.7,"axis":{"title":null}}}},
{"data":{"values":[{"t":"cloud"}]},"mark":{"type":"point","shape":"M-1,0.45L-1,0.1L-0.5,-0.45L-0.05,-0.1L0.3,-0.45L1,0.15L1,0.45Z","size":420,"filled":true,"fill":"#39a0e8","opacity":1},"encoding":{"x":{"datum":2.83,"axis":{"title":null}},"y":{"datum":38.7,"axis":{"title":null}}}},
{"data":{"values":[{"t":"cloud line"}]},"mark":{"type":"point","shape":"M-1,0.1L-0.5,-0.1L-0.05,0.25L0.3,-0.05L0.8,0.3","size":420,"filled":false,"stroke":"#ffffff","strokeWidth":1.5,"opacity":1},"encoding":{"x":{"datum":2.83,"axis":{"title":null}},"y":{"datum":38.7,"axis":{"title":null}}}},
{"data":{"values":[{"t":"gear ring"}]},"mark":{"type":"point","shape":"circle","size":75,"filled":false,"stroke":"#444444","strokeWidth":1.5,"opacity":1},"encoding":{"x":{"datum":210.1,"axis":{"title":null}},"y":{"datum":21.63,"axis":{"title":null}}}},
{"data":{"values":[{"t":"gear teeth"}]},"mark":{"type":"point","shape":"M0,-1L0,-0.65M0,1L0,0.65M-1,0L-0.65,0M1,0L0.65,0M-0.7,-0.7L-0.46,-0.46M0.7,0.7L0.46,0.46M-0.7,0.7L-0.46,0.46M0.7,-0.7L0.46,-0.46","size":210,"filled":false,"stroke":"#444444","strokeWidth":2,"opacity":1},"encoding":{"x":{"datum":210.1,"axis":{"title":null}},"y":{"datum":21.63,"axis":{"title":null}}}},
{"data":{"values":[{"t":"main divider"}]},"mark":{"type":"rule","color":"#8a8a8a","strokeWidth":1.5},"encoding":{"x":{"datum":205.48,"axis":{"title":null}},"x2":{"datum":214.5},"y":{"datum":27.07,"axis":{"title":null}}}},
{"data":{"values":[{"t":"axis divider"}]},"mark":{"type":"rule","color":"#8a8a8a","strokeWidth":2},"encoding":{"x":{"datum":205.48,"axis":{"title":null}},"y":{"datum":27.07,"axis":{"title":null}},"y2":{"datum":18.5}}},
{"data":{"values":[{"t":"pane divider"}]},"mark":{"type":"rule","color":"#8a8a8a","strokeWidth":1.5},"encoding":{"x":{"datum":205.48,"axis":{"title":null}},"x2":{"datum":214.5},"y":{"datum":90.37,"axis":{"title":null}}}},
{"data":{"values":[{"t":"footer"}]},"mark":{"type":"rule","color":"#111111","strokeWidth":2},"encoding":{"x":{"datum":-0.1,"axis":{"title":null}},"x2":{"datum":214.5},"y":{"datum":14.25,"axis":{"title":null}}}}
]}
]}
